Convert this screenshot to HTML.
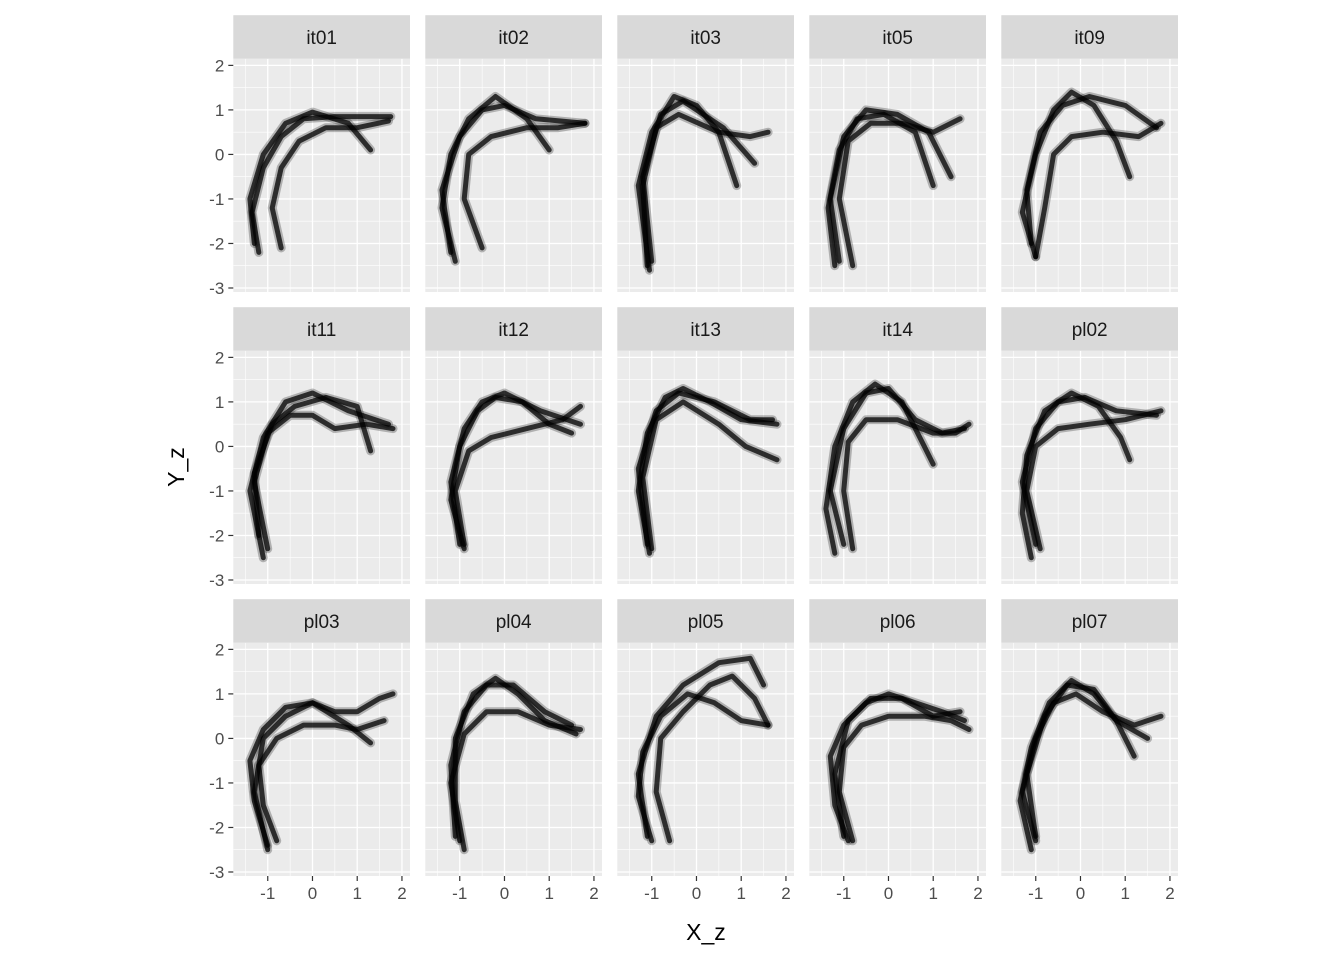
<!DOCTYPE html>
<html><head><meta charset="utf-8"><style>
body{margin:0;background:#fff;}
svg{display:block;font-family:"Liberation Sans",sans-serif;}
</style></head><body>
<svg id="chart" width="1344" height="960"></svg>
<script>
const panelNames=["it01","it02","it03","it05","it09","it11","it12","it13","it14","pl02","pl03","pl04","pl05","pl06","pl07"];
const xTicks=[-1,0,1,2];
const yTicks=[-3,-2,-1,0,1,2];
const curves={
it01:[[[-1.2,-2.2],[-1.35,-1.3],[-1.1,-0.3],[-0.7,0.4],[-0.2,0.8],[0.5,0.85],[1.2,0.85],[1.75,0.85]],[[-0.7,-2.1],[-0.9,-1.2],[-0.7,-0.3],[-0.3,0.3],[0.3,0.6],[1,0.6],[1.7,0.75]],[[-1.3,-2],[-1.4,-1],[-1.1,0],[-0.6,0.7],[0,0.95],[0.8,0.7],[1.3,0.1]]],
it02:[[[-1.1,-2.4],[-1.4,-1.2],[-1.2,0],[-0.8,0.8],[-0.2,1.3],[0.5,0.8],[1,0.1]],[[-0.5,-2.1],[-0.9,-1],[-0.8,0],[-0.3,0.4],[0.5,0.6],[1.2,0.6],[1.8,0.7]],[[-1.2,-2.2],[-1.4,-0.8],[-1,0.4],[-0.5,1],[0,1.1],[0.7,0.8],[1.8,0.7]]],
it03:[[[-1.05,-2.6],[-1.3,-0.7],[-1,0.5],[-0.5,1.3],[0,1.1],[0.5,0.5],[0.9,-0.7]],[[-1.1,-2.5],[-1.2,-0.7],[-0.9,0.6],[-0.4,0.9],[0.5,0.5],[1.2,0.4],[1.6,0.5]],[[-1.0,-2.4],[-1.2,-0.5],[-0.8,0.9],[-0.3,1.2],[0.6,0.6],[1.3,-0.2]]],
it05:[[[-1.2,-2.5],[-1.35,-1.2],[-1.1,0.1],[-0.7,0.8],[-0.1,0.9],[0.6,0.5],[1,-0.7]],[[-0.8,-2.5],[-1.1,-1],[-0.9,0.3],[-0.4,0.7],[0.3,0.7],[1,0.5],[1.6,0.8]],[[-1.1,-2.4],[-1.3,-1],[-1,0.4],[-0.5,1],[0.2,0.9],[0.9,0.5],[1.4,-0.5]]],
it09:[[[-1.0,-2.3],[-1.3,-1.3],[-1.0,0],[-0.6,1],[-0.2,1.4],[0.3,1.1],[0.8,0.3],[1.1,-0.5]],[[-1,-2.3],[-0.8,-1.2],[-0.6,0],[-0.2,0.4],[0.5,0.5],[1.3,0.4],[1.8,0.7]],[[-1.1,-2],[-1.2,-0.8],[-0.9,0.5],[-0.4,1.1],[0.2,1.3],[1,1.1],[1.7,0.6]]],
it11:[[[-1.1,-2.5],[-1.4,-1],[-1.1,0.2],[-0.6,1],[0,1.2],[0.8,0.8],[1.7,0.5]],[[-1,-2.3],[-1.3,-0.8],[-1,0.3],[-0.5,0.7],[0,0.7],[0.5,0.4],[1.2,0.5],[1.8,0.4]],[[-1.2,-2],[-1.3,-0.6],[-0.9,0.5],[-0.4,0.9],[0.3,1.1],[1,0.9],[1.3,-0.1]]],
it12:[[[-0.9,-2.3],[-1.2,-1.2],[-1,0],[-0.6,0.8],[-0.2,1.1],[0.4,1],[1,0.5],[1.5,0.3]],[[-0.9,-2.2],[-1.1,-1],[-0.8,-0.1],[-0.3,0.2],[0.5,0.4],[1.3,0.6],[1.7,0.9]],[[-1,-2.2],[-1.2,-0.8],[-0.9,0.4],[-0.5,1],[0,1.2],[0.8,0.8],[1.7,0.5]]],
it13:[[[-1.05,-2.4],[-1.3,-1],[-1.1,0.3],[-0.7,1.1],[-0.3,1.3],[0.3,1],[1,0.6],[1.8,0.5]],[[-1,-2.3],[-1.2,-0.7],[-0.9,0.6],[-0.3,1],[0.5,0.5],[1.1,0],[1.8,-0.3]],[[-1.1,-2.2],[-1.3,-0.5],[-0.9,0.8],[-0.4,1.2],[0.4,1],[1.2,0.6],[1.7,0.6]]],
it14:[[[-1.2,-2.4],[-1.4,-1.4],[-1.2,0],[-0.8,1],[-0.3,1.4],[0.3,1],[0.8,0],[1,-0.4]],[[-0.8,-2.3],[-1,-1],[-0.9,0.1],[-0.5,0.6],[0.2,0.6],[1,0.3],[1.5,0.3],[1.8,0.5]],[[-1,-2.2],[-1.3,-1],[-1,0.4],[-0.5,1.2],[0,1.3],[0.6,0.6],[1.2,0.3],[1.7,0.4]]],
pl02:[[[-1.1,-2.5],[-1.3,-1.5],[-1.2,-0.2],[-0.8,0.8],[-0.2,1.2],[0.4,0.9],[0.9,0.2],[1.1,-0.3]],[[-0.9,-2.3],[-1.2,-1],[-1,0],[-0.5,0.4],[0.2,0.5],[1,0.6],[1.8,0.8]],[[-1,-2.2],[-1.3,-0.8],[-1,0.4],[-0.5,1],[0.1,1.1],[0.8,0.8],[1.7,0.7]]],
pl03:[[[-1,-2.4],[-1.3,-1.4],[-1.4,-0.5],[-1.1,0.2],[-0.6,0.7],[0,0.8],[0.5,0.6],[1,0.6],[1.5,0.9],[1.8,1]],[[-0.8,-2.3],[-1.1,-1.5],[-1.2,-0.6],[-0.8,0],[-0.2,0.3],[0.5,0.3],[1,0.2],[1.6,0.4]],[[-1,-2.5],[-1.3,-1.2],[-1.1,0],[-0.6,0.5],[0,0.8],[0.8,0.3],[1.3,-0.1]]],
pl04:[[[-0.9,-2.5],[-1.1,-1.4],[-1.1,0],[-0.7,1],[-0.2,1.35],[0.3,1],[0.9,0.4],[1.6,0.1]],[[-1,-2.3],[-1.2,-1],[-0.9,0.1],[-0.4,0.6],[0.3,0.6],[1,0.3],[1.7,0.2]],[[-1.1,-2.2],[-1.2,-0.6],[-0.9,0.6],[-0.4,1.2],[0.2,1.2],[0.9,0.6],[1.5,0.3]]],
pl05:[[[-1,-2.3],[-1.3,-1.3],[-1.2,-0.3],[-0.8,0.5],[-0.2,1],[0.4,0.8],[1,0.4],[1.6,0.3]],[[-0.6,-2.3],[-0.9,-1.2],[-0.8,0],[-0.3,0.6],[0.3,1.2],[0.8,1.4],[1.3,0.9],[1.6,0.3]],[[-1.1,-2.2],[-1.3,-0.8],[-0.9,0.5],[-0.3,1.2],[0.5,1.7],[1.2,1.8],[1.5,1.2]]],
pl06:[[[-0.9,-2.3],[-1.2,-1.5],[-1.3,-0.4],[-1,0.3],[-0.5,0.8],[0,1],[0.6,0.8],[1.2,0.6],[1.7,0.4]],[[-0.8,-2.3],[-1.1,-1.2],[-1,-0.2],[-0.6,0.3],[0,0.5],[0.8,0.5],[1.4,0.4],[1.8,0.2]],[[-1,-2.2],[-1.2,-0.8],[-0.9,0.4],[-0.4,0.9],[0.3,0.9],[1,0.5],[1.6,0.6]]],
pl07:[[[-1.1,-2.5],[-1.35,-1.4],[-1.1,-0.2],[-0.7,0.8],[-0.2,1.3],[0.3,1],[0.8,0.4],[1.2,-0.4]],[[-1,-2.3],[-1.3,-1.2],[-1,0],[-0.6,0.8],[-0.1,1],[0.5,0.6],[1.2,0.3],[1.8,0.5]],[[-1,-2.2],[-1.2,-0.8],[-0.8,0.5],[-0.3,1.2],[0.3,1.1],[0.8,0.4],[1.5,0]]]
};
const NS="http://www.w3.org/2000/svg";
const svg=document.getElementById('chart');
function mk(tag,attrs,parent){const e=document.createElementNS(NS,tag);for(const k in attrs)e.setAttribute(k,attrs[k]);(parent||svg).appendChild(e);return e;}
const PW=176.7,PH=233.3,X0=233.3,COLSTEP=192,ROW_TOP=58.7,ROWSTEP=292,STRIP=43.5;
const XMIN=-1.77,XMAX=2.18,YMIN=-3.09,YMAX=2.15;
panelNames.forEach((nm,i)=>{
  const c=i%5,r=Math.floor(i/5);
  const px=X0+c*COLSTEP,py=ROW_TOP+r*ROWSTEP;
  const sx=v=>px+(v-XMIN)/(XMAX-XMIN)*PW;
  const sy=v=>py+PH-(v-YMIN)/(YMAX-YMIN)*PH;
  const g=mk('g',{});
  
  
  mk('rect',{x:px,y:py,width:PW,height:PH,fill:'#EBEBEB'},g);
  for(let v=-1.5;v<=2.1;v+=1){mk('line',{x1:sx(v),x2:sx(v),y1:py,y2:py+PH,stroke:'#fff','stroke-width':0.6},g);}
  for(let v=-2.5;v<=2.1;v+=1){mk('line',{x1:px,x2:px+PW,y1:sy(v),y2:sy(v),stroke:'#fff','stroke-width':0.6},g);}
  xTicks.forEach(v=>mk('line',{x1:sx(v),x2:sx(v),y1:py,y2:py+PH,stroke:'#fff','stroke-width':1.3},g));
  yTicks.forEach(v=>mk('line',{x1:px,x2:px+PW,y1:sy(v),y2:sy(v),stroke:'#fff','stroke-width':1.3},g));
  const st=mk('rect',{x:px,y:py-STRIP,width:PW,height:STRIP,fill:'#D9D9D9'},g);
  
  
  const t=mk('text',{x:px+PW/2,y:py-STRIP/2+7,'text-anchor':'middle','font-size':19,fill:'#1A1A1A'},g);
  t.textContent=nm;
  
  
  curves[nm].forEach((cv,k)=>{
    const d=cv.map((p,j)=>(j?'L':'M')+sx(p[0]).toFixed(1)+','+sy(p[1]).toFixed(1)).join(' ');
    mk('path',{d:d,fill:'none',stroke:'#000','stroke-width':9,'stroke-opacity':0.25,'stroke-linejoin':'round','stroke-linecap':'round'},g);
    const pth=mk('path',{d:d,fill:'none',stroke:'#000','stroke-width':5,'stroke-opacity':0.75,'stroke-linejoin':'round','stroke-linecap':'round'},g);
    
    
  });
  if(c===0){
    yTicks.forEach(v=>{
      mk('line',{x1:px-5,x2:px,y1:sy(v),y2:sy(v),stroke:'#333','stroke-width':1.2},g);
      const tl=mk('text',{x:px-9,y:sy(v)+6,'text-anchor':'end','font-size':17,fill:'#4D4D4D'},g);
      tl.textContent=v;
      
      
    });
  }
  if(r===2){
    xTicks.forEach(v=>{
      mk('line',{x1:sx(v),x2:sx(v),y1:py+PH,y2:py+PH+5,stroke:'#333','stroke-width':1.2},g);
      const tl=mk('text',{x:sx(v),y:py+PH+23,'text-anchor':'middle','font-size':17,fill:'#4D4D4D'},g);
      tl.textContent=v;
      
      
    });
  }
});
const xt=mk('text',{x:706,y:940,'text-anchor':'middle','font-size':23,fill:'#000'});
xt.textContent='X_z';


const yt=mk('text',{x:184,y:467,'text-anchor':'middle','font-size':23,fill:'#000',transform:'rotate(-90 184 467)'});
yt.textContent='Y_z';


</script>
</body></html>
